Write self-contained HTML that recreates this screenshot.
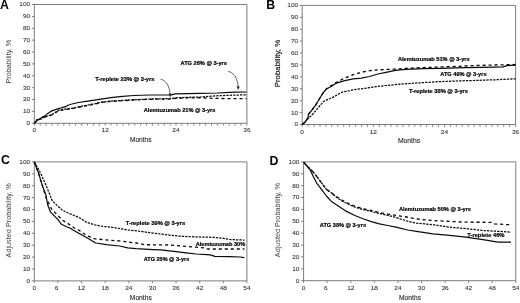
<!DOCTYPE html>
<html><head><meta charset="utf-8"><title>Figure</title>
<style>
html,body{margin:0;padding:0;background:#fff;}
body{width:520px;height:303px;overflow:hidden;}
svg{display:block;font-family:"Liberation Sans", sans-serif;filter:blur(0.3px);}
</style></head>
<body>
<svg width="520" height="303" viewBox="0 0 520 303">
<rect width="520" height="303" fill="#fff"/>
<text x="0.1" y="8.5" font-size="12.3" font-weight="bold" fill="#000">A</text>
<path d="M34.3,4.5 H246.9 V123.3 H34.3 Z" fill="none" stroke="#7c7c7c" stroke-width="1"/>
<line x1="31.8" y1="123.3" x2="34.3" y2="123.3" stroke="#7c7c7c" stroke-width="1"/>
<text x="30.2" y="125.2" font-size="6.1" text-anchor="end" textLength="3.62" lengthAdjust="spacingAndGlyphs" fill="#3a3a3a" stroke="#3a3a3a" stroke-width="0.1">0</text>
<line x1="31.8" y1="111.4" x2="34.3" y2="111.4" stroke="#7c7c7c" stroke-width="1"/>
<text x="30.2" y="113.3" font-size="6.1" text-anchor="end" textLength="7.24" lengthAdjust="spacingAndGlyphs" fill="#3a3a3a" stroke="#3a3a3a" stroke-width="0.1">10</text>
<line x1="31.8" y1="99.5" x2="34.3" y2="99.5" stroke="#7c7c7c" stroke-width="1"/>
<text x="30.2" y="101.4" font-size="6.1" text-anchor="end" textLength="7.24" lengthAdjust="spacingAndGlyphs" fill="#3a3a3a" stroke="#3a3a3a" stroke-width="0.1">20</text>
<line x1="31.8" y1="87.7" x2="34.3" y2="87.7" stroke="#7c7c7c" stroke-width="1"/>
<text x="30.2" y="89.6" font-size="6.1" text-anchor="end" textLength="7.24" lengthAdjust="spacingAndGlyphs" fill="#3a3a3a" stroke="#3a3a3a" stroke-width="0.1">30</text>
<line x1="31.8" y1="75.8" x2="34.3" y2="75.8" stroke="#7c7c7c" stroke-width="1"/>
<text x="30.2" y="77.7" font-size="6.1" text-anchor="end" textLength="7.24" lengthAdjust="spacingAndGlyphs" fill="#3a3a3a" stroke="#3a3a3a" stroke-width="0.1">40</text>
<line x1="31.8" y1="63.9" x2="34.3" y2="63.9" stroke="#7c7c7c" stroke-width="1"/>
<text x="30.2" y="65.8" font-size="6.1" text-anchor="end" textLength="7.24" lengthAdjust="spacingAndGlyphs" fill="#3a3a3a" stroke="#3a3a3a" stroke-width="0.1">50</text>
<line x1="31.8" y1="52.0" x2="34.3" y2="52.0" stroke="#7c7c7c" stroke-width="1"/>
<text x="30.2" y="53.9" font-size="6.1" text-anchor="end" textLength="7.24" lengthAdjust="spacingAndGlyphs" fill="#3a3a3a" stroke="#3a3a3a" stroke-width="0.1">60</text>
<line x1="31.8" y1="40.1" x2="34.3" y2="40.1" stroke="#7c7c7c" stroke-width="1"/>
<text x="30.2" y="42.0" font-size="6.1" text-anchor="end" textLength="7.24" lengthAdjust="spacingAndGlyphs" fill="#3a3a3a" stroke="#3a3a3a" stroke-width="0.1">70</text>
<line x1="31.8" y1="28.3" x2="34.3" y2="28.3" stroke="#7c7c7c" stroke-width="1"/>
<text x="30.2" y="30.2" font-size="6.1" text-anchor="end" textLength="7.24" lengthAdjust="spacingAndGlyphs" fill="#3a3a3a" stroke="#3a3a3a" stroke-width="0.1">80</text>
<line x1="31.8" y1="16.4" x2="34.3" y2="16.4" stroke="#7c7c7c" stroke-width="1"/>
<text x="30.2" y="18.3" font-size="6.1" text-anchor="end" textLength="7.24" lengthAdjust="spacingAndGlyphs" fill="#3a3a3a" stroke="#3a3a3a" stroke-width="0.1">90</text>
<line x1="31.8" y1="4.5" x2="34.3" y2="4.5" stroke="#7c7c7c" stroke-width="1"/>
<text x="30.2" y="6.4" font-size="6.1" text-anchor="end" textLength="10.86" lengthAdjust="spacingAndGlyphs" fill="#3a3a3a" stroke="#3a3a3a" stroke-width="0.1">100</text>
<line x1="34.3" y1="123.3" x2="34.3" y2="125.7" stroke="#7c7c7c" stroke-width="0.9"/>
<line x1="40.2" y1="123.3" x2="40.2" y2="125.7" stroke="#7c7c7c" stroke-width="0.9"/>
<line x1="46.1" y1="123.3" x2="46.1" y2="125.7" stroke="#7c7c7c" stroke-width="0.9"/>
<line x1="52.0" y1="123.3" x2="52.0" y2="125.7" stroke="#7c7c7c" stroke-width="0.9"/>
<line x1="57.9" y1="123.3" x2="57.9" y2="125.7" stroke="#7c7c7c" stroke-width="0.9"/>
<line x1="63.8" y1="123.3" x2="63.8" y2="125.7" stroke="#7c7c7c" stroke-width="0.9"/>
<line x1="69.7" y1="123.3" x2="69.7" y2="125.7" stroke="#7c7c7c" stroke-width="0.9"/>
<line x1="75.6" y1="123.3" x2="75.6" y2="125.7" stroke="#7c7c7c" stroke-width="0.9"/>
<line x1="81.5" y1="123.3" x2="81.5" y2="125.7" stroke="#7c7c7c" stroke-width="0.9"/>
<line x1="87.5" y1="123.3" x2="87.5" y2="125.7" stroke="#7c7c7c" stroke-width="0.9"/>
<line x1="93.4" y1="123.3" x2="93.4" y2="125.7" stroke="#7c7c7c" stroke-width="0.9"/>
<line x1="99.3" y1="123.3" x2="99.3" y2="125.7" stroke="#7c7c7c" stroke-width="0.9"/>
<line x1="105.2" y1="123.3" x2="105.2" y2="125.7" stroke="#7c7c7c" stroke-width="0.9"/>
<line x1="111.1" y1="123.3" x2="111.1" y2="125.7" stroke="#7c7c7c" stroke-width="0.9"/>
<line x1="117.0" y1="123.3" x2="117.0" y2="125.7" stroke="#7c7c7c" stroke-width="0.9"/>
<line x1="122.9" y1="123.3" x2="122.9" y2="125.7" stroke="#7c7c7c" stroke-width="0.9"/>
<line x1="128.8" y1="123.3" x2="128.8" y2="125.7" stroke="#7c7c7c" stroke-width="0.9"/>
<line x1="134.7" y1="123.3" x2="134.7" y2="125.7" stroke="#7c7c7c" stroke-width="0.9"/>
<line x1="140.6" y1="123.3" x2="140.6" y2="125.7" stroke="#7c7c7c" stroke-width="0.9"/>
<line x1="146.5" y1="123.3" x2="146.5" y2="125.7" stroke="#7c7c7c" stroke-width="0.9"/>
<line x1="152.4" y1="123.3" x2="152.4" y2="125.7" stroke="#7c7c7c" stroke-width="0.9"/>
<line x1="158.3" y1="123.3" x2="158.3" y2="125.7" stroke="#7c7c7c" stroke-width="0.9"/>
<line x1="164.2" y1="123.3" x2="164.2" y2="125.7" stroke="#7c7c7c" stroke-width="0.9"/>
<line x1="170.1" y1="123.3" x2="170.1" y2="125.7" stroke="#7c7c7c" stroke-width="0.9"/>
<line x1="176.0" y1="123.3" x2="176.0" y2="125.7" stroke="#7c7c7c" stroke-width="0.9"/>
<line x1="181.9" y1="123.3" x2="181.9" y2="125.7" stroke="#7c7c7c" stroke-width="0.9"/>
<line x1="187.8" y1="123.3" x2="187.8" y2="125.7" stroke="#7c7c7c" stroke-width="0.9"/>
<line x1="193.8" y1="123.3" x2="193.8" y2="125.7" stroke="#7c7c7c" stroke-width="0.9"/>
<line x1="199.7" y1="123.3" x2="199.7" y2="125.7" stroke="#7c7c7c" stroke-width="0.9"/>
<line x1="205.6" y1="123.3" x2="205.6" y2="125.7" stroke="#7c7c7c" stroke-width="0.9"/>
<line x1="211.5" y1="123.3" x2="211.5" y2="125.7" stroke="#7c7c7c" stroke-width="0.9"/>
<line x1="217.4" y1="123.3" x2="217.4" y2="125.7" stroke="#7c7c7c" stroke-width="0.9"/>
<line x1="223.3" y1="123.3" x2="223.3" y2="125.7" stroke="#7c7c7c" stroke-width="0.9"/>
<line x1="229.2" y1="123.3" x2="229.2" y2="125.7" stroke="#7c7c7c" stroke-width="0.9"/>
<line x1="235.1" y1="123.3" x2="235.1" y2="125.7" stroke="#7c7c7c" stroke-width="0.9"/>
<line x1="241.0" y1="123.3" x2="241.0" y2="125.7" stroke="#7c7c7c" stroke-width="0.9"/>
<line x1="246.9" y1="123.3" x2="246.9" y2="125.7" stroke="#7c7c7c" stroke-width="0.9"/>
<text x="34.3" y="132.1" font-size="6.1" text-anchor="middle" textLength="3.62" lengthAdjust="spacingAndGlyphs" fill="#3a3a3a" stroke="#3a3a3a" stroke-width="0.1">0</text>
<text x="105.2" y="132.1" font-size="6.1" text-anchor="middle" textLength="7.24" lengthAdjust="spacingAndGlyphs" fill="#3a3a3a" stroke="#3a3a3a" stroke-width="0.1">12</text>
<text x="176.0" y="132.1" font-size="6.1" text-anchor="middle" textLength="7.24" lengthAdjust="spacingAndGlyphs" fill="#3a3a3a" stroke="#3a3a3a" stroke-width="0.1">24</text>
<text x="246.9" y="132.1" font-size="6.1" text-anchor="middle" textLength="7.24" lengthAdjust="spacingAndGlyphs" fill="#3a3a3a" stroke="#3a3a3a" stroke-width="0.1">36</text>
<text x="130" y="141.9" font-size="7" textLength="21.5" lengthAdjust="spacingAndGlyphs" fill="#2a2a2a" stroke="#2a2a2a" stroke-width="0.12">Months</text>
<text transform="translate(11.0,61.6) rotate(-90)" x="0" y="0" font-size="7.1" text-anchor="middle" textLength="43.8" lengthAdjust="spacingAndGlyphs" fill="#444" stroke="#444" stroke-width="0">Probability, %</text>
<polyline points="34.3,123.3 37.0,119.9 39.0,119.6 40.9,119.0 44.9,117.1 48.8,116.0 52.8,114.5 55.8,112.5 58.7,110.6 61.7,110.1 64.7,109.6 68.6,109.1 72.0,108.7 77.5,107.4 80.0,107.0 88.2,105.4 95.4,104.0 99.4,102.6 110.9,101.4 122.5,100.7 134.0,100.0 150.0,99.3 169.2,99.0 178.8,98.2 200.0,97.7 212.4,98.3 226.8,98.6 246.5,98.6" fill="none" stroke="#0a0a0a" stroke-width="1.3" stroke-dasharray="3.1 2.9"/>
<polyline points="34.3,123.3 37.0,119.6 39.0,119.3 40.9,118.6 44.9,116.7 48.8,115.6 52.8,114.1 55.8,112.1 58.7,110.2 61.7,109.7 64.7,109.2 68.6,108.7 72.0,108.3 77.5,107.0 80.0,106.6 88.2,105.0 95.4,103.6 99.4,102.3 110.9,101.1 122.5,100.4 134.0,99.7 150.0,99.0 169.2,98.6 178.8,97.6 200.0,97.0 207.6,96.4 217.2,95.8 226.8,95.4 236.5,95.1 246.5,94.8" fill="none" stroke="#0a0a0a" stroke-width="1.25" stroke-dasharray="2.3 1.1"/>
<polyline points="34.3,123.3 37.9,119.9 41.9,117.4 44.9,115.9 47.8,113.4 50.8,111.4 53.8,110.1 57.7,108.9 61.7,107.7 65.7,106.7 68.6,105.0 72.0,104.0 78.6,102.5 87.8,101.1 99.4,99.3 110.9,97.6 122.5,96.3 134.0,95.5 150.0,95.0 171.5,94.9 175.0,93.9 200.0,93.4 217.2,93.0 234.5,92.2 246.5,92.0" fill="none" stroke="#0a0a0a" stroke-width="1.2" stroke-linejoin="round"/>
<text x="180.5" y="64.7" font-size="5.6" font-weight="bold" textLength="46.4" lengthAdjust="spacingAndGlyphs" fill="#000" stroke="#000" stroke-width="0.2">ATG 26% @ 3-yrs</text>
<text x="95.2" y="80.8" font-size="5.6" font-weight="bold" textLength="59.2" lengthAdjust="spacingAndGlyphs" fill="#000" stroke="#000" stroke-width="0.2">T-replete 23% @ 3-yrs</text>
<text x="143.8" y="111.7" font-size="5.6" font-weight="bold" textLength="71.6" lengthAdjust="spacingAndGlyphs" fill="#000" stroke="#000" stroke-width="0.2">Alemtuzumab 21% @ 3-yrs</text>
<path d="M160.6,79.2 C165.5,80 169.6,85.5 170.0,94.5" fill="none" stroke="#333" stroke-width="0.75"/>
<path d="M169.0,93.8 L170.2,96.8 L171.3,93.8 Z" fill="#222" stroke="#222" stroke-width="0.4"/>
<path d="M228.2,71.4 C233,72.5 237.6,77 238.1,87.2" fill="none" stroke="#333" stroke-width="0.75"/>
<path d="M237.0,86.6 L238.2,89.6 L239.4,86.6 Z" fill="#222" stroke="#222" stroke-width="0.4"/>
<text x="266.3" y="8.7" font-size="12.3" font-weight="bold" fill="#000">B</text>
<path d="M302.2,5.4 H515.6 V124.5 H302.2 Z" fill="none" stroke="#7c7c7c" stroke-width="1"/>
<line x1="299.7" y1="124.5" x2="302.2" y2="124.5" stroke="#7c7c7c" stroke-width="1"/>
<text x="298.2" y="126.4" font-size="6.1" text-anchor="end" textLength="3.62" lengthAdjust="spacingAndGlyphs" fill="#3a3a3a" stroke="#3a3a3a" stroke-width="0.1">0</text>
<line x1="299.7" y1="112.6" x2="302.2" y2="112.6" stroke="#7c7c7c" stroke-width="1"/>
<text x="298.2" y="114.5" font-size="6.1" text-anchor="end" textLength="7.24" lengthAdjust="spacingAndGlyphs" fill="#3a3a3a" stroke="#3a3a3a" stroke-width="0.1">10</text>
<line x1="299.7" y1="100.7" x2="302.2" y2="100.7" stroke="#7c7c7c" stroke-width="1"/>
<text x="298.2" y="102.6" font-size="6.1" text-anchor="end" textLength="7.24" lengthAdjust="spacingAndGlyphs" fill="#3a3a3a" stroke="#3a3a3a" stroke-width="0.1">20</text>
<line x1="299.7" y1="88.8" x2="302.2" y2="88.8" stroke="#7c7c7c" stroke-width="1"/>
<text x="298.2" y="90.7" font-size="6.1" text-anchor="end" textLength="7.24" lengthAdjust="spacingAndGlyphs" fill="#3a3a3a" stroke="#3a3a3a" stroke-width="0.1">30</text>
<line x1="299.7" y1="76.9" x2="302.2" y2="76.9" stroke="#7c7c7c" stroke-width="1"/>
<text x="298.2" y="78.8" font-size="6.1" text-anchor="end" textLength="7.24" lengthAdjust="spacingAndGlyphs" fill="#3a3a3a" stroke="#3a3a3a" stroke-width="0.1">40</text>
<line x1="299.7" y1="65.0" x2="302.2" y2="65.0" stroke="#7c7c7c" stroke-width="1"/>
<text x="298.2" y="66.9" font-size="6.1" text-anchor="end" textLength="7.24" lengthAdjust="spacingAndGlyphs" fill="#3a3a3a" stroke="#3a3a3a" stroke-width="0.1">50</text>
<line x1="299.7" y1="53.0" x2="302.2" y2="53.0" stroke="#7c7c7c" stroke-width="1"/>
<text x="298.2" y="54.9" font-size="6.1" text-anchor="end" textLength="7.24" lengthAdjust="spacingAndGlyphs" fill="#3a3a3a" stroke="#3a3a3a" stroke-width="0.1">60</text>
<line x1="299.7" y1="41.1" x2="302.2" y2="41.1" stroke="#7c7c7c" stroke-width="1"/>
<text x="298.2" y="43.0" font-size="6.1" text-anchor="end" textLength="7.24" lengthAdjust="spacingAndGlyphs" fill="#3a3a3a" stroke="#3a3a3a" stroke-width="0.1">70</text>
<line x1="299.7" y1="29.2" x2="302.2" y2="29.2" stroke="#7c7c7c" stroke-width="1"/>
<text x="298.2" y="31.1" font-size="6.1" text-anchor="end" textLength="7.24" lengthAdjust="spacingAndGlyphs" fill="#3a3a3a" stroke="#3a3a3a" stroke-width="0.1">80</text>
<line x1="299.7" y1="17.3" x2="302.2" y2="17.3" stroke="#7c7c7c" stroke-width="1"/>
<text x="298.2" y="19.2" font-size="6.1" text-anchor="end" textLength="7.24" lengthAdjust="spacingAndGlyphs" fill="#3a3a3a" stroke="#3a3a3a" stroke-width="0.1">90</text>
<line x1="299.7" y1="5.4" x2="302.2" y2="5.4" stroke="#7c7c7c" stroke-width="1"/>
<text x="298.2" y="7.3" font-size="6.1" text-anchor="end" textLength="10.86" lengthAdjust="spacingAndGlyphs" fill="#3a3a3a" stroke="#3a3a3a" stroke-width="0.1">100</text>
<line x1="302.2" y1="124.5" x2="302.2" y2="126.9" stroke="#7c7c7c" stroke-width="0.9"/>
<line x1="308.1" y1="124.5" x2="308.1" y2="126.9" stroke="#7c7c7c" stroke-width="0.9"/>
<line x1="314.1" y1="124.5" x2="314.1" y2="126.9" stroke="#7c7c7c" stroke-width="0.9"/>
<line x1="320.0" y1="124.5" x2="320.0" y2="126.9" stroke="#7c7c7c" stroke-width="0.9"/>
<line x1="325.9" y1="124.5" x2="325.9" y2="126.9" stroke="#7c7c7c" stroke-width="0.9"/>
<line x1="331.8" y1="124.5" x2="331.8" y2="126.9" stroke="#7c7c7c" stroke-width="0.9"/>
<line x1="337.8" y1="124.5" x2="337.8" y2="126.9" stroke="#7c7c7c" stroke-width="0.9"/>
<line x1="343.7" y1="124.5" x2="343.7" y2="126.9" stroke="#7c7c7c" stroke-width="0.9"/>
<line x1="349.6" y1="124.5" x2="349.6" y2="126.9" stroke="#7c7c7c" stroke-width="0.9"/>
<line x1="355.6" y1="124.5" x2="355.6" y2="126.9" stroke="#7c7c7c" stroke-width="0.9"/>
<line x1="361.5" y1="124.5" x2="361.5" y2="126.9" stroke="#7c7c7c" stroke-width="0.9"/>
<line x1="367.4" y1="124.5" x2="367.4" y2="126.9" stroke="#7c7c7c" stroke-width="0.9"/>
<line x1="373.3" y1="124.5" x2="373.3" y2="126.9" stroke="#7c7c7c" stroke-width="0.9"/>
<line x1="379.3" y1="124.5" x2="379.3" y2="126.9" stroke="#7c7c7c" stroke-width="0.9"/>
<line x1="385.2" y1="124.5" x2="385.2" y2="126.9" stroke="#7c7c7c" stroke-width="0.9"/>
<line x1="391.1" y1="124.5" x2="391.1" y2="126.9" stroke="#7c7c7c" stroke-width="0.9"/>
<line x1="397.0" y1="124.5" x2="397.0" y2="126.9" stroke="#7c7c7c" stroke-width="0.9"/>
<line x1="403.0" y1="124.5" x2="403.0" y2="126.9" stroke="#7c7c7c" stroke-width="0.9"/>
<line x1="408.9" y1="124.5" x2="408.9" y2="126.9" stroke="#7c7c7c" stroke-width="0.9"/>
<line x1="414.8" y1="124.5" x2="414.8" y2="126.9" stroke="#7c7c7c" stroke-width="0.9"/>
<line x1="420.8" y1="124.5" x2="420.8" y2="126.9" stroke="#7c7c7c" stroke-width="0.9"/>
<line x1="426.7" y1="124.5" x2="426.7" y2="126.9" stroke="#7c7c7c" stroke-width="0.9"/>
<line x1="432.6" y1="124.5" x2="432.6" y2="126.9" stroke="#7c7c7c" stroke-width="0.9"/>
<line x1="438.5" y1="124.5" x2="438.5" y2="126.9" stroke="#7c7c7c" stroke-width="0.9"/>
<line x1="444.5" y1="124.5" x2="444.5" y2="126.9" stroke="#7c7c7c" stroke-width="0.9"/>
<line x1="450.4" y1="124.5" x2="450.4" y2="126.9" stroke="#7c7c7c" stroke-width="0.9"/>
<line x1="456.3" y1="124.5" x2="456.3" y2="126.9" stroke="#7c7c7c" stroke-width="0.9"/>
<line x1="462.2" y1="124.5" x2="462.2" y2="126.9" stroke="#7c7c7c" stroke-width="0.9"/>
<line x1="468.2" y1="124.5" x2="468.2" y2="126.9" stroke="#7c7c7c" stroke-width="0.9"/>
<line x1="474.1" y1="124.5" x2="474.1" y2="126.9" stroke="#7c7c7c" stroke-width="0.9"/>
<line x1="480.0" y1="124.5" x2="480.0" y2="126.9" stroke="#7c7c7c" stroke-width="0.9"/>
<line x1="486.0" y1="124.5" x2="486.0" y2="126.9" stroke="#7c7c7c" stroke-width="0.9"/>
<line x1="491.9" y1="124.5" x2="491.9" y2="126.9" stroke="#7c7c7c" stroke-width="0.9"/>
<line x1="497.8" y1="124.5" x2="497.8" y2="126.9" stroke="#7c7c7c" stroke-width="0.9"/>
<line x1="503.7" y1="124.5" x2="503.7" y2="126.9" stroke="#7c7c7c" stroke-width="0.9"/>
<line x1="509.7" y1="124.5" x2="509.7" y2="126.9" stroke="#7c7c7c" stroke-width="0.9"/>
<line x1="515.6" y1="124.5" x2="515.6" y2="126.9" stroke="#7c7c7c" stroke-width="0.9"/>
<text x="302.2" y="133.5" font-size="6.1" text-anchor="middle" textLength="3.62" lengthAdjust="spacingAndGlyphs" fill="#3a3a3a" stroke="#3a3a3a" stroke-width="0.1">0</text>
<text x="373.3" y="133.5" font-size="6.1" text-anchor="middle" textLength="7.24" lengthAdjust="spacingAndGlyphs" fill="#3a3a3a" stroke="#3a3a3a" stroke-width="0.1">12</text>
<text x="444.5" y="133.5" font-size="6.1" text-anchor="middle" textLength="7.24" lengthAdjust="spacingAndGlyphs" fill="#3a3a3a" stroke="#3a3a3a" stroke-width="0.1">24</text>
<text x="515.6" y="133.5" font-size="6.1" text-anchor="middle" textLength="7.24" lengthAdjust="spacingAndGlyphs" fill="#3a3a3a" stroke="#3a3a3a" stroke-width="0.1">36</text>
<text x="397.9" y="143.2" font-size="7" textLength="22.3" lengthAdjust="spacingAndGlyphs" fill="#2a2a2a" stroke="#2a2a2a" stroke-width="0.12">Months</text>
<text transform="translate(279.6,63.6) rotate(-90)" x="0" y="0" font-size="7.8" text-anchor="middle" textLength="47.4" lengthAdjust="spacingAndGlyphs" fill="#222" stroke="#222" stroke-width="0.2">Probability, %</text>
<polyline points="302.2,124.4 305.3,122.0 307.9,118.0 308.6,114.0 311.9,110.1 315.8,104.8 319.8,98.2 323.1,92.9 326.4,89.0 329.9,86.5 336.5,82.2 344.8,78.1 353.0,74.8 361.3,72.3 369.5,70.7 377.8,69.9 386.0,69.5 394.3,69.1 406.5,68.3 423.0,67.6 439.5,67.0 456.0,66.4 473.0,65.6 490.0,65.1 515.6,64.5" fill="none" stroke="#0a0a0a" stroke-width="1.3" stroke-dasharray="3.1 2.9"/>
<polyline points="302.2,124.4 304.5,122.6 307.0,119.5 311.5,115.5 315.5,111.0 318.5,107.4 321.5,103.8 323.5,101.5 328.5,99.2 334.5,96.5 340.0,93.2 342.3,92.1 348.0,91.0 353.0,89.8 361.3,88.8 369.5,87.7 377.8,86.4 386.0,85.5 400.0,84.2 423.0,82.6 439.5,81.6 456.0,81.0 473.0,80.5 497.8,79.7 515.6,78.8" fill="none" stroke="#0a0a0a" stroke-width="1.25" stroke-dasharray="2.3 1.1"/>
<polyline points="302.2,124.4 305.3,122.0 307.9,118.0 308.6,114.0 311.9,110.1 315.8,104.8 319.8,98.2 323.1,92.9 326.4,89.0 329.9,87.2 336.5,83.1 344.8,80.6 353.0,78.9 361.3,78.1 369.5,76.5 377.8,74.0 386.0,72.3 394.3,70.7 400.0,69.9 406.5,69.3 423.0,68.7 439.5,68.3 465.0,67.6 495.0,67.1 503.0,66.8 507.0,65.7 515.6,65.2" fill="none" stroke="#0a0a0a" stroke-width="1.2" stroke-linejoin="round"/>
<text x="397.9" y="61.0" font-size="5.6" font-weight="bold" textLength="71.8" lengthAdjust="spacingAndGlyphs" fill="#000" stroke="#000" stroke-width="0.2">Alemtuzumab 51% @ 3-yrs</text>
<text x="440.3" y="76.4" font-size="5.6" font-weight="bold" textLength="46.2" lengthAdjust="spacingAndGlyphs" fill="#000" stroke="#000" stroke-width="0.2">ATG 49% @ 3-yrs</text>
<text x="409.0" y="93.2" font-size="5.6" font-weight="bold" textLength="59.0" lengthAdjust="spacingAndGlyphs" fill="#000" stroke="#000" stroke-width="0.2">T-replete 38% @ 3-yrs</text>
<text x="0.9" y="163.7" font-size="12.3" font-weight="bold" fill="#000">C</text>
<path d="M34.3,161.9 H246.9 V280.9 H34.3 Z" fill="none" stroke="#7c7c7c" stroke-width="1"/>
<line x1="31.8" y1="280.9" x2="34.3" y2="280.9" stroke="#7c7c7c" stroke-width="1"/>
<text x="30.2" y="282.8" font-size="6.1" text-anchor="end" textLength="3.62" lengthAdjust="spacingAndGlyphs" fill="#3a3a3a" stroke="#3a3a3a" stroke-width="0.1">0</text>
<line x1="31.8" y1="269.0" x2="34.3" y2="269.0" stroke="#7c7c7c" stroke-width="1"/>
<text x="30.2" y="270.9" font-size="6.1" text-anchor="end" textLength="7.24" lengthAdjust="spacingAndGlyphs" fill="#3a3a3a" stroke="#3a3a3a" stroke-width="0.1">10</text>
<line x1="31.8" y1="257.1" x2="34.3" y2="257.1" stroke="#7c7c7c" stroke-width="1"/>
<text x="30.2" y="259.0" font-size="6.1" text-anchor="end" textLength="7.24" lengthAdjust="spacingAndGlyphs" fill="#3a3a3a" stroke="#3a3a3a" stroke-width="0.1">20</text>
<line x1="31.8" y1="245.2" x2="34.3" y2="245.2" stroke="#7c7c7c" stroke-width="1"/>
<text x="30.2" y="247.1" font-size="6.1" text-anchor="end" textLength="7.24" lengthAdjust="spacingAndGlyphs" fill="#3a3a3a" stroke="#3a3a3a" stroke-width="0.1">30</text>
<line x1="31.8" y1="233.3" x2="34.3" y2="233.3" stroke="#7c7c7c" stroke-width="1"/>
<text x="30.2" y="235.2" font-size="6.1" text-anchor="end" textLength="7.24" lengthAdjust="spacingAndGlyphs" fill="#3a3a3a" stroke="#3a3a3a" stroke-width="0.1">40</text>
<line x1="31.8" y1="221.4" x2="34.3" y2="221.4" stroke="#7c7c7c" stroke-width="1"/>
<text x="30.2" y="223.3" font-size="6.1" text-anchor="end" textLength="7.24" lengthAdjust="spacingAndGlyphs" fill="#3a3a3a" stroke="#3a3a3a" stroke-width="0.1">50</text>
<line x1="31.8" y1="209.5" x2="34.3" y2="209.5" stroke="#7c7c7c" stroke-width="1"/>
<text x="30.2" y="211.4" font-size="6.1" text-anchor="end" textLength="7.24" lengthAdjust="spacingAndGlyphs" fill="#3a3a3a" stroke="#3a3a3a" stroke-width="0.1">60</text>
<line x1="31.8" y1="197.6" x2="34.3" y2="197.6" stroke="#7c7c7c" stroke-width="1"/>
<text x="30.2" y="199.5" font-size="6.1" text-anchor="end" textLength="7.24" lengthAdjust="spacingAndGlyphs" fill="#3a3a3a" stroke="#3a3a3a" stroke-width="0.1">70</text>
<line x1="31.8" y1="185.7" x2="34.3" y2="185.7" stroke="#7c7c7c" stroke-width="1"/>
<text x="30.2" y="187.6" font-size="6.1" text-anchor="end" textLength="7.24" lengthAdjust="spacingAndGlyphs" fill="#3a3a3a" stroke="#3a3a3a" stroke-width="0.1">80</text>
<line x1="31.8" y1="173.8" x2="34.3" y2="173.8" stroke="#7c7c7c" stroke-width="1"/>
<text x="30.2" y="175.7" font-size="6.1" text-anchor="end" textLength="7.24" lengthAdjust="spacingAndGlyphs" fill="#3a3a3a" stroke="#3a3a3a" stroke-width="0.1">90</text>
<line x1="31.8" y1="161.9" x2="34.3" y2="161.9" stroke="#7c7c7c" stroke-width="1"/>
<text x="30.2" y="163.8" font-size="6.1" text-anchor="end" textLength="10.86" lengthAdjust="spacingAndGlyphs" fill="#3a3a3a" stroke="#3a3a3a" stroke-width="0.1">100</text>
<line x1="34.3" y1="280.9" x2="34.3" y2="283.3" stroke="#7c7c7c" stroke-width="0.9"/>
<line x1="57.9" y1="280.9" x2="57.9" y2="283.3" stroke="#7c7c7c" stroke-width="0.9"/>
<line x1="81.5" y1="280.9" x2="81.5" y2="283.3" stroke="#7c7c7c" stroke-width="0.9"/>
<line x1="105.2" y1="280.9" x2="105.2" y2="283.3" stroke="#7c7c7c" stroke-width="0.9"/>
<line x1="128.8" y1="280.9" x2="128.8" y2="283.3" stroke="#7c7c7c" stroke-width="0.9"/>
<line x1="152.4" y1="280.9" x2="152.4" y2="283.3" stroke="#7c7c7c" stroke-width="0.9"/>
<line x1="176.0" y1="280.9" x2="176.0" y2="283.3" stroke="#7c7c7c" stroke-width="0.9"/>
<line x1="199.7" y1="280.9" x2="199.7" y2="283.3" stroke="#7c7c7c" stroke-width="0.9"/>
<line x1="223.3" y1="280.9" x2="223.3" y2="283.3" stroke="#7c7c7c" stroke-width="0.9"/>
<line x1="246.9" y1="280.9" x2="246.9" y2="283.3" stroke="#7c7c7c" stroke-width="0.9"/>
<text x="34.3" y="290.0" font-size="6.1" text-anchor="middle" textLength="3.62" lengthAdjust="spacingAndGlyphs" fill="#3a3a3a" stroke="#3a3a3a" stroke-width="0.1">0</text>
<text x="56.6" y="290.0" font-size="6.1" text-anchor="middle" textLength="3.62" lengthAdjust="spacingAndGlyphs" fill="#3a3a3a" stroke="#3a3a3a" stroke-width="0.1">6</text>
<text x="81.5" y="290.0" font-size="6.1" text-anchor="middle" textLength="7.24" lengthAdjust="spacingAndGlyphs" fill="#3a3a3a" stroke="#3a3a3a" stroke-width="0.1">12</text>
<text x="105.2" y="290.0" font-size="6.1" text-anchor="middle" textLength="7.24" lengthAdjust="spacingAndGlyphs" fill="#3a3a3a" stroke="#3a3a3a" stroke-width="0.1">18</text>
<text x="128.8" y="290.0" font-size="6.1" text-anchor="middle" textLength="7.24" lengthAdjust="spacingAndGlyphs" fill="#3a3a3a" stroke="#3a3a3a" stroke-width="0.1">24</text>
<text x="152.4" y="290.0" font-size="6.1" text-anchor="middle" textLength="7.24" lengthAdjust="spacingAndGlyphs" fill="#3a3a3a" stroke="#3a3a3a" stroke-width="0.1">30</text>
<text x="176.0" y="290.0" font-size="6.1" text-anchor="middle" textLength="7.24" lengthAdjust="spacingAndGlyphs" fill="#3a3a3a" stroke="#3a3a3a" stroke-width="0.1">36</text>
<text x="199.7" y="290.0" font-size="6.1" text-anchor="middle" textLength="7.24" lengthAdjust="spacingAndGlyphs" fill="#3a3a3a" stroke="#3a3a3a" stroke-width="0.1">42</text>
<text x="223.3" y="290.0" font-size="6.1" text-anchor="middle" textLength="7.24" lengthAdjust="spacingAndGlyphs" fill="#3a3a3a" stroke="#3a3a3a" stroke-width="0.1">48</text>
<text x="246.9" y="290.0" font-size="6.1" text-anchor="middle" textLength="7.24" lengthAdjust="spacingAndGlyphs" fill="#3a3a3a" stroke="#3a3a3a" stroke-width="0.1">54</text>
<text x="129.8" y="299.6" font-size="7" textLength="22.0" lengthAdjust="spacingAndGlyphs" fill="#2a2a2a" stroke="#2a2a2a" stroke-width="0.12">Months</text>
<text transform="translate(11.3,220.3) rotate(-90)" x="0" y="0" font-size="7.2" text-anchor="middle" textLength="74.3" lengthAdjust="spacingAndGlyphs" fill="#444" stroke="#444" stroke-width="0">Adjusted Probability, %</text>
<polyline points="34.3,161.9 38.6,173.5 42.6,186.6 46.5,199.0 48.6,203.0 51.9,209.5 57.2,214.8 62.4,220.1 67.7,223.4 74.3,228.0 79.6,230.6 86.5,235.5 94.8,238.8 103.0,239.6 111.3,240.4 119.5,240.9 127.8,242.1 136.5,243.0 144.8,244.7 169.5,245.0 180.0,245.9 196.5,247.2 204.8,248.0 208.0,249.0 244.4,249.0" fill="none" stroke="#0a0a0a" stroke-width="1.3" stroke-dasharray="3.1 2.9"/>
<polyline points="34.3,161.9 40.6,173.2 46.5,186.4 51.8,199.6 53.2,201.6 57.2,205.6 62.4,210.2 67.7,212.8 74.3,215.5 79.6,217.8 86.5,222.3 94.8,224.8 103.0,226.4 111.3,227.2 119.5,228.5 127.8,230.0 136.5,230.8 153.0,233.1 169.5,235.1 180.0,236.2 196.5,236.9 213.0,237.3 222.9,238.2 229.5,239.5 244.4,240.1" fill="none" stroke="#0a0a0a" stroke-width="1.25" stroke-dasharray="2.3 1.1"/>
<polyline points="34.3,161.9 38.6,173.2 42.6,186.4 45.9,195.0 47.9,205.6 50.6,212.2 54.5,216.1 57.8,219.4 61.1,224.0 66.4,226.7 70.0,228.0 73.0,230.0 78.3,233.0 86.5,237.6 93.2,241.4 95.8,243.0 106.4,244.7 119.6,246.0 127.8,247.9 136.0,248.7 153.0,249.6 160.8,249.9 169.5,250.9 176.2,251.6 186.0,252.8 196.2,254.0 207.0,254.6 210.0,254.9 215.0,256.3 229.5,256.6 240.0,257.0 244.4,257.6" fill="none" stroke="#0a0a0a" stroke-width="1.2" stroke-linejoin="round"/>
<text x="125.8" y="225.2" font-size="5.6" font-weight="bold" textLength="59.4" lengthAdjust="spacingAndGlyphs" fill="#000" stroke="#000" stroke-width="0.2">T-replete 39% @ 3-yrs</text>
<text x="195.7" y="246.3" font-size="5.6" font-weight="bold" textLength="49.5" lengthAdjust="spacingAndGlyphs" fill="#000" stroke="#000" stroke-width="0.2">Alemtuzumab 30%</text>
<text x="143.8" y="260.8" font-size="5.6" font-weight="bold" textLength="45.4" lengthAdjust="spacingAndGlyphs" fill="#000" stroke="#000" stroke-width="0.2">ATG 25% @ 3-yrs</text>
<text x="269.4" y="164.8" font-size="12.3" font-weight="bold" fill="#000">D</text>
<path d="M303.6,161.9 H515.8 V280.7 H303.6 Z" fill="none" stroke="#7c7c7c" stroke-width="1"/>
<line x1="301.1" y1="280.7" x2="303.6" y2="280.7" stroke="#7c7c7c" stroke-width="1"/>
<text x="299.4" y="282.6" font-size="6.1" text-anchor="end" textLength="3.62" lengthAdjust="spacingAndGlyphs" fill="#3a3a3a" stroke="#3a3a3a" stroke-width="0.1">0</text>
<line x1="301.1" y1="268.8" x2="303.6" y2="268.8" stroke="#7c7c7c" stroke-width="1"/>
<text x="299.4" y="270.7" font-size="6.1" text-anchor="end" textLength="7.24" lengthAdjust="spacingAndGlyphs" fill="#3a3a3a" stroke="#3a3a3a" stroke-width="0.1">10</text>
<line x1="301.1" y1="256.9" x2="303.6" y2="256.9" stroke="#7c7c7c" stroke-width="1"/>
<text x="299.4" y="258.8" font-size="6.1" text-anchor="end" textLength="7.24" lengthAdjust="spacingAndGlyphs" fill="#3a3a3a" stroke="#3a3a3a" stroke-width="0.1">20</text>
<line x1="301.1" y1="245.1" x2="303.6" y2="245.1" stroke="#7c7c7c" stroke-width="1"/>
<text x="299.4" y="247.0" font-size="6.1" text-anchor="end" textLength="7.24" lengthAdjust="spacingAndGlyphs" fill="#3a3a3a" stroke="#3a3a3a" stroke-width="0.1">30</text>
<line x1="301.1" y1="233.2" x2="303.6" y2="233.2" stroke="#7c7c7c" stroke-width="1"/>
<text x="299.4" y="235.1" font-size="6.1" text-anchor="end" textLength="7.24" lengthAdjust="spacingAndGlyphs" fill="#3a3a3a" stroke="#3a3a3a" stroke-width="0.1">40</text>
<line x1="301.1" y1="221.3" x2="303.6" y2="221.3" stroke="#7c7c7c" stroke-width="1"/>
<text x="299.4" y="223.2" font-size="6.1" text-anchor="end" textLength="7.24" lengthAdjust="spacingAndGlyphs" fill="#3a3a3a" stroke="#3a3a3a" stroke-width="0.1">50</text>
<line x1="301.1" y1="209.4" x2="303.6" y2="209.4" stroke="#7c7c7c" stroke-width="1"/>
<text x="299.4" y="211.3" font-size="6.1" text-anchor="end" textLength="7.24" lengthAdjust="spacingAndGlyphs" fill="#3a3a3a" stroke="#3a3a3a" stroke-width="0.1">60</text>
<line x1="301.1" y1="197.5" x2="303.6" y2="197.5" stroke="#7c7c7c" stroke-width="1"/>
<text x="299.4" y="199.4" font-size="6.1" text-anchor="end" textLength="7.24" lengthAdjust="spacingAndGlyphs" fill="#3a3a3a" stroke="#3a3a3a" stroke-width="0.1">70</text>
<line x1="301.1" y1="185.7" x2="303.6" y2="185.7" stroke="#7c7c7c" stroke-width="1"/>
<text x="299.4" y="187.6" font-size="6.1" text-anchor="end" textLength="7.24" lengthAdjust="spacingAndGlyphs" fill="#3a3a3a" stroke="#3a3a3a" stroke-width="0.1">80</text>
<line x1="301.1" y1="173.8" x2="303.6" y2="173.8" stroke="#7c7c7c" stroke-width="1"/>
<text x="299.4" y="175.7" font-size="6.1" text-anchor="end" textLength="7.24" lengthAdjust="spacingAndGlyphs" fill="#3a3a3a" stroke="#3a3a3a" stroke-width="0.1">90</text>
<line x1="301.1" y1="161.9" x2="303.6" y2="161.9" stroke="#7c7c7c" stroke-width="1"/>
<text x="299.4" y="163.8" font-size="6.1" text-anchor="end" textLength="10.86" lengthAdjust="spacingAndGlyphs" fill="#3a3a3a" stroke="#3a3a3a" stroke-width="0.1">100</text>
<line x1="303.6" y1="280.7" x2="303.6" y2="283.1" stroke="#7c7c7c" stroke-width="0.9"/>
<line x1="327.2" y1="280.7" x2="327.2" y2="283.1" stroke="#7c7c7c" stroke-width="0.9"/>
<line x1="350.8" y1="280.7" x2="350.8" y2="283.1" stroke="#7c7c7c" stroke-width="0.9"/>
<line x1="374.3" y1="280.7" x2="374.3" y2="283.1" stroke="#7c7c7c" stroke-width="0.9"/>
<line x1="397.9" y1="280.7" x2="397.9" y2="283.1" stroke="#7c7c7c" stroke-width="0.9"/>
<line x1="421.5" y1="280.7" x2="421.5" y2="283.1" stroke="#7c7c7c" stroke-width="0.9"/>
<line x1="445.1" y1="280.7" x2="445.1" y2="283.1" stroke="#7c7c7c" stroke-width="0.9"/>
<line x1="468.6" y1="280.7" x2="468.6" y2="283.1" stroke="#7c7c7c" stroke-width="0.9"/>
<line x1="492.2" y1="280.7" x2="492.2" y2="283.1" stroke="#7c7c7c" stroke-width="0.9"/>
<line x1="515.8" y1="280.7" x2="515.8" y2="283.1" stroke="#7c7c7c" stroke-width="0.9"/>
<text x="303.6" y="289.9" font-size="6.1" text-anchor="middle" textLength="3.62" lengthAdjust="spacingAndGlyphs" fill="#3a3a3a" stroke="#3a3a3a" stroke-width="0.1">0</text>
<text x="325.9" y="289.9" font-size="6.1" text-anchor="middle" textLength="3.62" lengthAdjust="spacingAndGlyphs" fill="#3a3a3a" stroke="#3a3a3a" stroke-width="0.1">6</text>
<text x="350.8" y="289.9" font-size="6.1" text-anchor="middle" textLength="7.24" lengthAdjust="spacingAndGlyphs" fill="#3a3a3a" stroke="#3a3a3a" stroke-width="0.1">12</text>
<text x="374.3" y="289.9" font-size="6.1" text-anchor="middle" textLength="7.24" lengthAdjust="spacingAndGlyphs" fill="#3a3a3a" stroke="#3a3a3a" stroke-width="0.1">18</text>
<text x="397.9" y="289.9" font-size="6.1" text-anchor="middle" textLength="7.24" lengthAdjust="spacingAndGlyphs" fill="#3a3a3a" stroke="#3a3a3a" stroke-width="0.1">24</text>
<text x="421.5" y="289.9" font-size="6.1" text-anchor="middle" textLength="7.24" lengthAdjust="spacingAndGlyphs" fill="#3a3a3a" stroke="#3a3a3a" stroke-width="0.1">30</text>
<text x="445.1" y="289.9" font-size="6.1" text-anchor="middle" textLength="7.24" lengthAdjust="spacingAndGlyphs" fill="#3a3a3a" stroke="#3a3a3a" stroke-width="0.1">36</text>
<text x="468.6" y="289.9" font-size="6.1" text-anchor="middle" textLength="7.24" lengthAdjust="spacingAndGlyphs" fill="#3a3a3a" stroke="#3a3a3a" stroke-width="0.1">42</text>
<text x="492.2" y="289.9" font-size="6.1" text-anchor="middle" textLength="7.24" lengthAdjust="spacingAndGlyphs" fill="#3a3a3a" stroke="#3a3a3a" stroke-width="0.1">48</text>
<text x="515.8" y="289.9" font-size="6.1" text-anchor="middle" textLength="7.24" lengthAdjust="spacingAndGlyphs" fill="#3a3a3a" stroke="#3a3a3a" stroke-width="0.1">54</text>
<text x="399.0" y="299.6" font-size="7" textLength="22.0" lengthAdjust="spacingAndGlyphs" fill="#2a2a2a" stroke="#2a2a2a" stroke-width="0.12">Months</text>
<text transform="translate(279.8,220.1) rotate(-90)" x="0" y="0" font-size="7.2" text-anchor="middle" textLength="74.2" lengthAdjust="spacingAndGlyphs" fill="#444" stroke="#444" stroke-width="0">Adjusted Probability, %</text>
<polyline points="303.6,162.1 308.3,167.1 312.4,171.2 316.5,176.2 321.5,182.8 326.4,189.4 331.4,192.7 336.3,196.6 342.9,200.7 349.5,204.0 354.8,206.3 363.0,208.8 371.3,210.4 379.5,212.6 387.8,214.1 396.0,215.4 408.3,217.3 416.5,218.9 433.0,220.6 449.5,221.4 466.0,222.2 491.3,222.3 494.6,223.9 511.0,224.8" fill="none" stroke="#0a0a0a" stroke-width="1.3" stroke-dasharray="3.1 2.9"/>
<polyline points="303.6,162.1 308.3,167.1 312.4,171.2 316.5,176.2 321.5,182.8 326.4,189.4 331.4,192.9 336.3,197.2 342.9,201.4 349.5,204.8 354.8,207.0 363.0,209.6 371.3,211.5 379.5,213.6 387.8,215.3 396.0,217.5 400.0,218.9 408.3,221.4 416.5,223.1 433.0,224.7 449.5,227.2 466.0,228.6 483.0,230.5 499.5,231.4 511.0,232.2" fill="none" stroke="#0a0a0a" stroke-width="1.25" stroke-dasharray="2.3 1.1"/>
<polyline points="303.6,162.1 309.9,169.6 313.2,176.2 316.5,182.8 321.5,189.4 326.4,196.0 331.4,201.4 338.3,205.9 346.5,211.4 354.8,215.5 363.0,218.8 371.3,221.6 379.5,223.8 387.8,225.5 396.0,227.1 407.6,230.0 416.5,231.3 433.0,233.8 449.5,235.4 466.0,237.1 483.0,239.6 497.9,242.1 511.0,242.1" fill="none" stroke="#0a0a0a" stroke-width="1.2" stroke-linejoin="round"/>
<text x="399.0" y="211.0" font-size="5.6" font-weight="bold" textLength="72.0" lengthAdjust="spacingAndGlyphs" fill="#000" stroke="#000" stroke-width="0.2">Alemtuzumab 50% @ 3-yrs</text>
<text x="319.8" y="227.2" font-size="5.6" font-weight="bold" textLength="46.2" lengthAdjust="spacingAndGlyphs" fill="#000" stroke="#000" stroke-width="0.2">ATG 38% @ 3-yrs</text>
<text x="467.3" y="236.7" font-size="5.6" font-weight="bold" textLength="37.2" lengthAdjust="spacingAndGlyphs" fill="#000" stroke="#000" stroke-width="0.2">T-replete 46%</text>
</svg>
</body></html>
